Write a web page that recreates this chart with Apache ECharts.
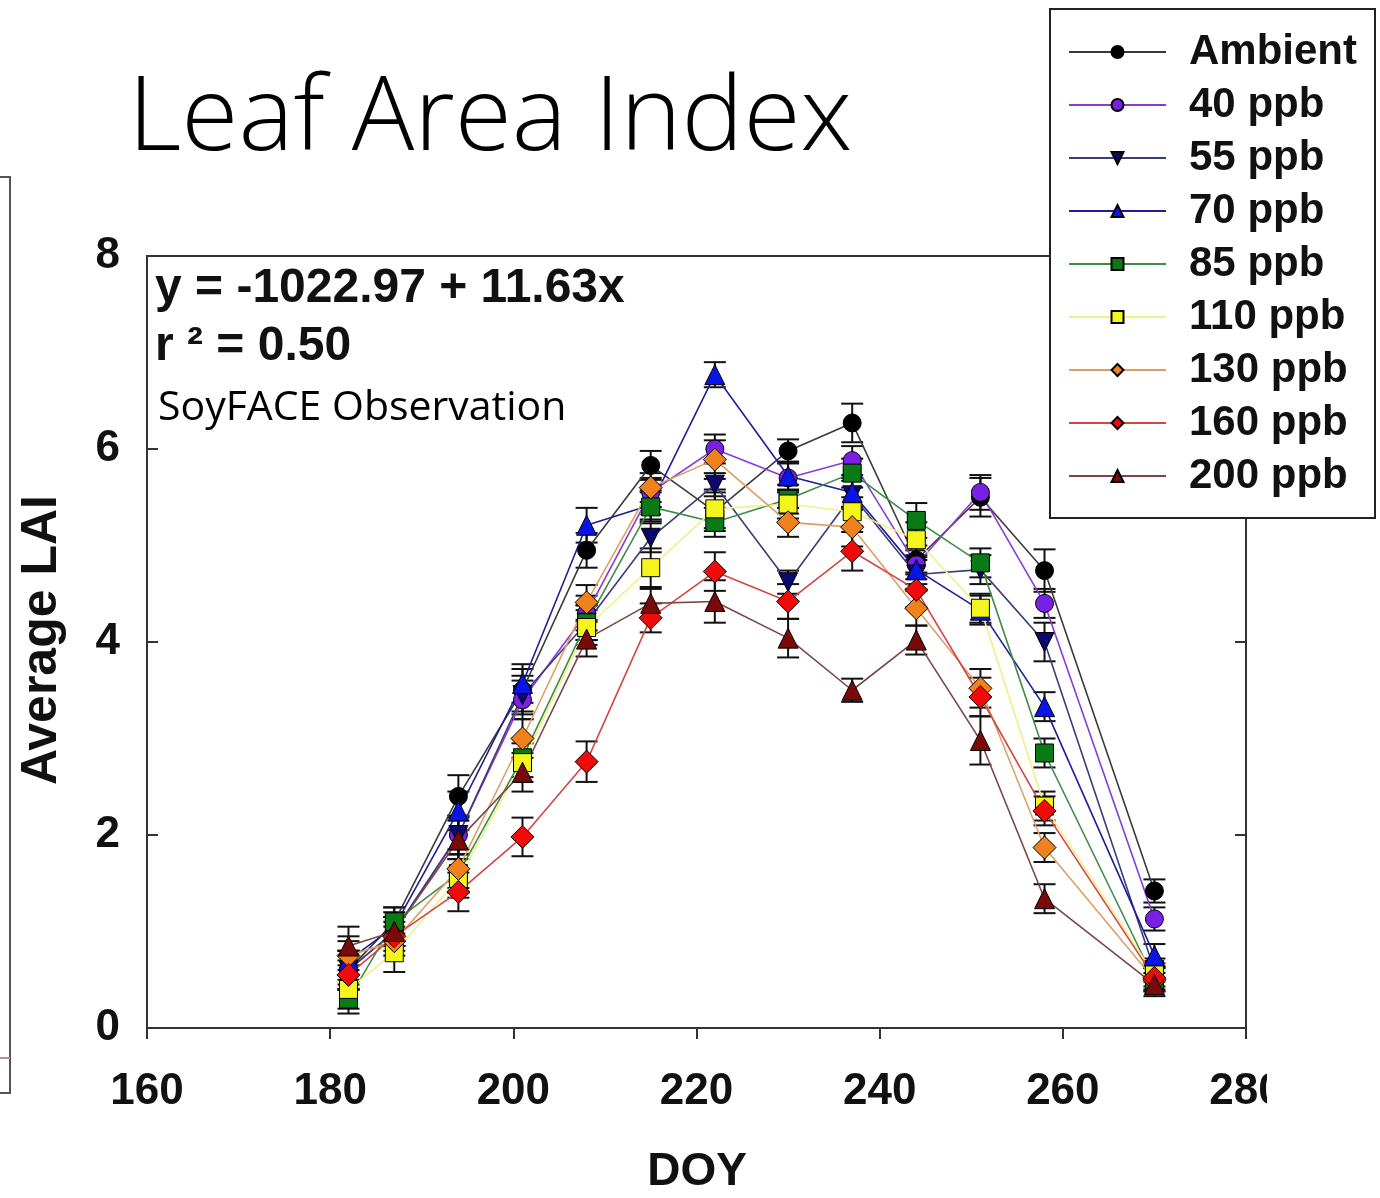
<!DOCTYPE html>
<html>
<head>
<meta charset="utf-8">
<script src="https://cdn.jsdelivr.net/npm/echarts@6/dist/echarts.min.js"></script>
<style>
html,body{margin:0;padding:0;background:#fff;}
#chart{width:1380px;height:1198px;}
</style>
</head>
<body>
<div id="chart"></div>
<script>
// ---- data ----
const doy = [182, 187, 194, 201, 208, 215, 222, 230, 237, 244, 251, 258, 270];
const seriesNames = ['Ambient', '40 ppb', '55 ppb', '70 ppb', '85 ppb', '110 ppb', '130 ppb', '160 ppb', '200 ppb'];
const ambient = [0.60, 1.10, 2.40, 3.50, 4.95, 5.83, 5.35, 5.98, 6.27, 4.85, 5.50, 4.74, 1.42];
const ppb40   = [0.60, 1.00, 2.00, 3.40, 4.30, 5.55, 6.00, 5.70, 5.88, 4.80, 5.55, 4.40, 1.13];
const ppb55   = [0.60, 1.00, 2.00, 3.45, 4.20, 5.08, 5.63, 4.62, 5.52, 4.70, 4.75, 4.00, 0.60];
const ppb70   = [0.70, 1.05, 2.25, 3.57, 5.21, 5.42, 6.77, 5.72, 5.55, 4.75, 4.33, 3.33, 0.75];
const ppb85   = [0.30, 1.10, 1.60, 2.80, 4.20, 5.40, 5.24, 5.48, 5.75, 5.26, 4.82, 2.85, 0.50];
const ppb110  = [0.40, 0.78, 1.55, 2.75, 4.15, 4.77, 5.38, 5.43, 5.35, 5.06, 4.35, 2.30, 0.55];
const ppb130  = [0.75, 0.90, 1.65, 3.00, 4.41, 5.60, 5.89, 5.24, 5.19, 4.35, 3.52, 1.87, 0.50];
const ppb160  = [0.55, 0.95, 1.41, 1.98, 2.76, 4.25, 4.73, 4.42, 4.94, 4.54, 3.43, 2.25, 0.52];
const ppb200  = [0.85, 1.00, 1.95, 2.65, 4.03, 4.40, 4.42, 4.04, 3.50, 4.02, 2.98, 1.34, 0.45];
// standard errors (half error-bar lengths)
const errAmbient = [0.20, 0.15, 0.22, 0.22, 0.18, 0.15, 0.20, 0.12, 0.20, 0.15, 0.20, 0.22, 0.12];
const err40      = [0.20, 0.15, 0.20, 0.20, 0.18, 0.15, 0.15, 0.15, 0.15, 0.15, 0.18, 0.15, 0.12];
const err55      = [0.20, 0.15, 0.20, 0.20, 0.18, 0.15, 0.12, 0.12, 0.15, 0.15, 0.15, 0.20, 0.12];
const err70      = [0.20, 0.15, 0.20, 0.20, 0.18, 0.15, 0.13, 0.15, 0.15, 0.15, 0.15, 0.15, 0.12];
const err85      = [0.15, 0.15, 0.20, 0.20, 0.18, 0.15, 0.15, 0.15, 0.15, 0.18, 0.15, 0.15, 0.12];
const err110     = [0.20, 0.20, 0.20, 0.20, 0.18, 0.20, 0.20, 0.15, 0.15, 0.18, 0.15, 0.15, 0.12];
const err130     = [0.20, 0.15, 0.20, 0.20, 0.18, 0.15, 0.20, 0.15, 0.20, 0.18, 0.20, 0.15, 0.12];
const err160     = [0.15, 0.15, 0.20, 0.20, 0.21, 0.15, 0.20, 0.18, 0.20, 0.18, 0.20, 0.15, 0.12];
const err200     = [0.20, 0.15, 0.20, 0.20, 0.18, 0.15, 0.22, 0.20, 0.12, 0.15, 0.25, 0.15, 0.12];
const xTicks = [160, 180, 200, 220, 240, 260, 280];
const yTicks = [0, 2, 4, 6, 8];

const values = [ambient, ppb40, ppb55, ppb70, ppb85, ppb110, ppb130, ppb160, ppb200];
const errors = [errAmbient, err40, err55, err70, err85, err110, err130, err160, err200];

// ---- styles ----
const markerColors = ['#000000', '#7a1fe6', '#0a0a6e', '#0a14e6', '#0a7a14', '#f5f51e', '#f0821e', '#f00a0a', '#7a0a0a'];
const lineColors   = ['#3a3a3a', '#8a3ad6', '#3c3c7a', '#1e1e96', '#3e8c46', '#f0f08a', '#dca064', '#d24646', '#7a4646'];
const symbols      = ['circle', 'circle', 'triangle', 'triangle', 'rect', 'rect', 'diamond', 'diamond', 'triangle'];
const symbolRot    = [0, 0, 180, 0, 0, 0, 0, 0, 0];
const symbolSizes  = [18, 18, 19, 20, 18, 18, 23, 23, 20];

const chart = echarts.init(document.getElementById('chart'), null, {renderer: 'canvas'});

const series = [];
values.forEach((vals, i) => {
  series.push({
    type: 'custom',
    name: seriesNames[i] + ' err',
    xAxisIndex: 0, yAxisIndex: 0,
    z: 2,
    silent: true,
    data: doy.map((d, j) => [d, vals[j] - errors[i][j], vals[j] + errors[i][j]]),
    renderItem: function (params, api) {
      const x = api.value(0);
      const lo = api.coord([x, api.value(1)]);
      const hi = api.coord([x, api.value(2)]);
      const cw = 11;
      const st = {stroke: '#111', lineWidth: 2};
      return {
        type: 'group',
        children: [
          {type: 'line', shape: {x1: lo[0], y1: lo[1], x2: hi[0], y2: hi[1]}, style: st},
          {type: 'line', shape: {x1: lo[0] - cw, y1: lo[1], x2: lo[0] + cw, y2: lo[1]}, style: st},
          {type: 'line', shape: {x1: hi[0] - cw, y1: hi[1], x2: hi[0] + cw, y2: hi[1]}, style: st}
        ]
      };
    }
  });
});
values.forEach((vals, i) => {
  series.push({
    type: 'line',
    name: seriesNames[i],
    xAxisIndex: 0, yAxisIndex: 0,
    z: 3,
    data: doy.map((d, j) => [d, vals[j]]),
    symbol: symbols[i],
    symbolRotate: symbolRot[i],
    symbolSize: symbolSizes[i],
    showAllSymbol: true,
    lineStyle: {color: lineColors[i], width: 1.6},
    itemStyle: {color: markerColors[i], borderColor: '#000', borderWidth: 1},
    emphasis: {disabled: true},
    animation: false
  });
});

const axisFont = {fontFamily: 'Liberation Sans, Arial, sans-serif', fontWeight: 'bold', fontSize: 44, color: '#111'};

const option = {
  animation: false,
  grid: {left: 147, right: 134, top: 256, bottom: 170, show: true, borderColor: '#333', borderWidth: 2, backgroundColor: 'transparent'},
  legend: {
    orient: 'vertical',
    left: 1050, top: 9,
    padding: [22, 18, 21, 18],
    itemWidth: 97, itemHeight: 15, itemGap: 11,
    backgroundColor: '#fff',
    borderColor: '#222', borderWidth: 2, borderRadius: 0,
    data: seriesNames,
    textStyle: {fontFamily: 'Liberation Sans, Arial, sans-serif', fontWeight: 'bold', fontSize: 42, lineHeight: 42, color: '#111', padding: [0, 0, 0, 18]},
    selectedMode: false,
    z: 10
  },
  xAxis: [{
    type: 'value', min: xTicks[0], max: xTicks[xTicks.length - 1], interval: 20,
    axisLine: {show: true, lineStyle: {color: '#333', width: 2}},
    axisTick: {show: true, length: 11, lineStyle: {color: '#333', width: 2}},
    axisLabel: Object.assign({margin: 42}, axisFont),
    splitLine: {show: false}
  }],
  yAxis: [{
    type: 'value', min: yTicks[0], max: yTicks[yTicks.length - 1], interval: 2,
    axisLine: {show: true, lineStyle: {color: '#333', width: 2}},
    axisTick: {show: true, inside: true, length: 11, lineStyle: {color: '#333', width: 2}},
    axisLabel: Object.assign({margin: 27}, axisFont),
    splitLine: {show: false}
  }, {
    type: 'value', min: yTicks[0], max: yTicks[yTicks.length - 1], interval: 2, position: 'right',
    axisLine: {show: true, lineStyle: {color: '#333', width: 2}},
    axisTick: {show: true, inside: true, length: 11, lineStyle: {color: '#333', width: 2}},
    axisLabel: {show: false},
    splitLine: {show: false}
  }],
  graphic: [
    {type: 'text', left: 128, top: 68, style: {text: 'Leaf Area Index', font: '300 104px "Open Sans", sans-serif', fill: '#000'}, z: 20},
    {type: 'text', x: 155, y: 289, style: {text: 'y = -1022.97 + 11.63x', font: 'bold 48px "Liberation Sans", Arial, sans-serif', fill: '#111', verticalAlign: 'middle'}, z: 20},
    {type: 'text', x: 155, y: 347, style: {text: 'r ² = 0.50', font: 'bold 48px "Liberation Sans", Arial, sans-serif', fill: '#111', verticalAlign: 'middle'}, z: 20},
    {type: 'text', x: 158, y: 408, style: {text: 'SoyFACE Observation', font: '41px "Open Sans", sans-serif', fill: '#000', verticalAlign: 'middle'}, z: 20},
    {type: 'text', x: 42, y: 640, rotation: Math.PI / 2, style: {text: 'Average LAI', font: 'bold 50px "Liberation Sans Narrow", "Liberation Sans", Arial, sans-serif', fill: '#111', align: 'center', verticalAlign: 'middle'}, z: 20},
    {type: 'text', x: 697, y: 1172, style: {text: 'DOY', font: 'bold 46px "Liberation Sans", Arial, sans-serif', fill: '#111', align: 'center', verticalAlign: 'middle'}, z: 20},
    {type: 'rect', shape: {x: 1267, y: 1055, width: 40, height: 70}, style: {fill: '#fff'}, z: 30},
    {type: 'polyline', shape: {points: [[0, 177], [10, 177], [10, 1093], [0, 1093]]}, style: {stroke: '#555', lineWidth: 2, fill: null}, z: 20},
    {type: 'line', shape: {x1: 0, y1: 1058, x2: 10, y2: 1058}, style: {stroke: '#c08a8a', lineWidth: 2}, z: 20}
  ],
  series: series
};
chart.setOption(option);
</script>
</body>
</html>
